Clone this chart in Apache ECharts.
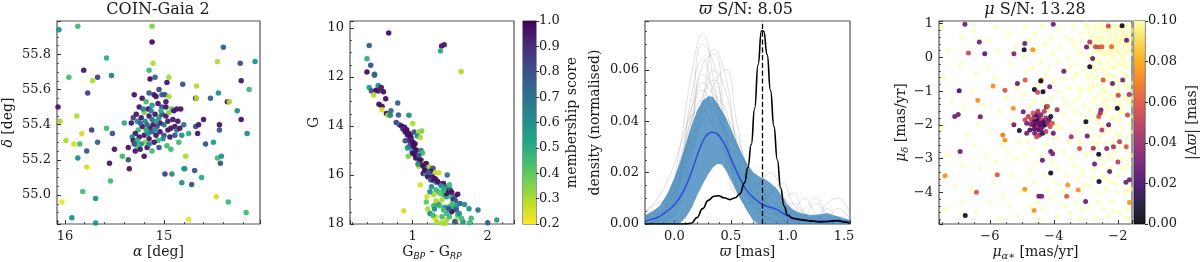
<!DOCTYPE html>
<html><head><meta charset="utf-8">
<script src="https://cdn.jsdelivr.net/npm/echarts@6/dist/echarts.min.js"></script>
<style>html,body{margin:0;padding:0;background:#fff}#c{width:1200px;height:262px}</style>
</head><body><div id="c"></div>
<script>
// ---------------- DATA ----------------
const titles = ['COIN-Gaia 2', '{i|ϖ} S/N: 8.05', '{i|μ} S/N: 13.28'];

// Panel 1: [alpha deg, delta deg, membership score]
const fieldPts = [
[16.06,55.94,0.6],[15.87,55.96,0.45],[15.12,55.96,0.35],[15.12,55.87,0.97],[15.11,55.75,0.3],[14.40,55.84,0.75],[14.46,55.76,0.3],[14.23,55.75,0.8],[14.08,55.76,0.6],[15.58,55.78,0.5],[15.81,55.71,0.95],[15.96,55.67,0.45],[15.72,55.65,0.3],[15.67,55.67,0.85],[15.53,55.68,0.65],[15.77,55.58,0.85],[15.15,55.71,0.45],[15.14,55.66,0.97],[15.09,55.67,0.75],[14.95,55.67,0.3],[14.97,55.64,0.95],[14.81,55.63,0.8],[14.67,55.62,0.3],[14.22,55.65,0.95],[14.14,55.60,0.45],[16.07,55.50,0.95],[15.88,55.45,0.3],[16.05,55.42,0.3],[15.73,55.37,0.85],[15.52,55.35,0.8],[15.58,55.38,0.45],[15.99,55.31,0.3],[15.91,55.29,0.25],[15.85,55.29,0.45],[15.83,55.35,0.25],[15.67,55.30,0.75],[15.87,55.21,0.6],[15.78,55.25,0.8],[15.78,55.16,0.25],[15.55,55.18,0.95],[15.50,55.26,0.95],[15.54,55.08,0.45],[15.82,55.02,0.45],[15.69,54.98,0.6],[16.03,54.96,0.22],[15.93,54.87,0.6],[15.69,54.84,0.6],[15.42,55.22,0.45],[15.40,55.41,0.5],[15.36,55.27,0.95],[15.35,55.15,0.95],[15.36,55.20,0.8],
[14.83,55.49,0.95],[14.82,55.34,0.6],[14.78,55.22,0.3],[14.68,55.55,0.95],[14.67,55.55,0.3],[14.68,55.39,0.8],[14.66,55.35,0.95],[14.69,55.14,0.8],[14.72,55.06,0.8],[14.60,55.43,0.95],[14.65,55.40,0.95],[14.58,55.29,0.8],[14.53,55.55,0.75],[14.50,55.30,0.55],[14.46,55.21,0.45],[14.47,54.99,0.25],[14.45,55.58,0.6],[14.44,55.37,0.8],[14.44,55.40,0.95],[14.43,55.18,0.8],[14.42,55.22,0.6],[14.36,55.53,0.95],[14.34,55.53,0.3],[14.35,54.96,0.45],[14.62,55.10,0.5],[14.80,55.15,0.45],[14.79,55.15,0.6],[14.82,55.07,0.6],[14.92,55.12,0.6],[14.99,55.12,0.85],[14.75,54.86,0.22],[14.17,54.90,0.45],[14.16,55.35,0.6],[14.26,55.48,0.6],[14.22,55.43,0.95],
[15.30,55.57,0.95],[15.22,55.55,0.95],[15.18,55.53,0.45],[15.15,55.58,0.75],[15.10,55.57,0.95],[15.08,55.56,0.95],[15.05,55.60,0.85],[15.02,55.57,0.75],[14.99,55.57,0.8],[14.95,55.56,0.3],[14.98,55.53,0.95],[15.02,55.50,0.8],[15.06,55.52,0.95],[15.12,55.51,0.55],[15.16,55.49,0.95],[15.20,55.47,0.35],[15.25,55.50,0.95],[15.28,55.46,0.95],[15.31,55.44,0.85],[15.33,55.41,0.95],[15.27,55.42,0.6],[15.23,55.44,0.95],[15.19,55.42,0.6],[15.15,55.45,0.95],[15.12,55.43,0.7],[15.09,55.46,0.95],[15.05,55.44,0.6],[15.02,55.46,0.8],[14.98,55.45,0.95],[14.95,55.47,0.35],[14.92,55.49,0.4],[14.90,55.48,0.95],[14.87,55.49,0.95],[14.96,55.42,0.95],[15.00,55.40,0.7],[15.04,55.41,0.95],[15.07,55.39,0.8],[15.11,55.40,0.95],[15.14,55.38,0.95],[15.18,55.37,0.5],[15.22,55.39,0.95],[15.26,55.37,0.45],[15.29,55.35,0.95],[15.32,55.33,0.6],[15.25,55.33,0.95],[15.20,55.34,0.95],[15.16,55.35,0.6],[15.12,55.36,0.75],[15.08,55.34,0.95],[15.04,55.36,0.95],[15.00,55.34,0.8],[14.96,55.37,0.95],[14.93,55.38,0.95],[14.89,55.39,0.95],[14.87,55.37,0.7],[15.01,55.32,0.6],[15.06,55.31,0.45],[15.10,55.30,0.95],[15.15,55.32,0.95],[15.19,55.30,0.35],[15.23,55.29,0.6],[15.27,55.28,0.45],[15.31,55.31,0.95],[15.29,55.25,0.95],[15.24,55.26,0.95],[15.17,55.27,0.95],[15.12,55.25,0.45],[15.20,55.22,0.95],[15.05,55.27,0.8],[14.97,55.28,0.45],[14.93,55.26,0.45],[15.08,55.42,0.55],[15.13,55.48,0.65],[15.03,55.48,0.5],[15.17,55.40,0.75],[15.09,55.37,0.6],[14.98,55.50,0.95],[15.21,55.49,0.65],[15.24,55.41,0.75],[15.15,55.29,0.65],[15.27,55.31,0.5],[15.30,55.29,0.8],
[14.91,55.43,0.95],[14.86,55.42,0.95],[14.84,55.38,0.95],[14.80,55.40,0.7],[14.89,55.34,0.8],[14.94,55.33,0.95],[14.75,55.35,0.5],[14.85,55.30,0.45]
];

// Panel 2: [BP-RP, G, membership score]
const cmdPts = [
[0.68,10.20,0.97],[0.42,10.71,0.78],[1.385,10.73,0.95],[1.42,10.68,0.93],[1.37,10.94,0.5],[0.39,11.25,0.5],[0.44,11.52,0.8],[0.39,11.79,0.97],[0.49,11.93,0.7],[0.49,11.88,0.75],[1.645,11.77,0.3],
[0.54,12.34,0.6],[0.42,12.43,0.55],[0.45,12.57,0.82],[0.51,12.54,0.97],[0.54,12.57,0.95],[0.58,12.43,0.95],[0.61,12.6,0.97],[0.48,12.73,0.3],[0.64,12.89,0.97],[0.80,13.06,0.75],[0.55,13.11,0.97],[0.59,13.19,0.97],[0.59,13.33,0.25],[0.71,13.38,0.7],[0.65,13.49,0.97],[0.67,13.56,0.3],[0.70,13.56,0.65],[0.81,13.55,0.75],[0.95,13.56,0.6],
[0.78,13.85,0.85],[0.82,13.95,0.75],[0.85,14.0,0.97],[0.89,14.05,0.97],[0.87,14.12,0.9],[0.92,14.15,0.97],[1.0,13.9,0.3],[1.02,14.24,0.8],[1.08,14.24,0.3],[1.12,14.2,0.35],[1.06,14.41,0.6],[1.1,14.47,0.3],[0.9,14.24,0.97],[0.93,14.37,0.97],[0.95,14.3,0.97],[0.95,14.58,0.97],[0.98,14.5,0.9],[0.97,14.72,0.8],[1.03,14.72,0.97],[1.0,14.65,0.97],[1.02,14.92,0.97],[0.95,14.85,0.8],[0.99,15.05,0.6],[1.05,14.99,0.97],[1.0,15.12,0.97],[1.03,15.17,0.97],[0.94,15.23,0.35],[1.06,15.26,0.97],[1.11,15.0,0.65],[1.13,15.1,0.45],[1.11,15.39,0.97],[1.14,15.53,0.3],[1.18,15.53,0.97],[1.15,15.67,0.8],[1.08,15.64,0.3],[1.19,15.74,0.75],[1.22,15.67,0.3],[1.27,15.72,0.8],[1.24,15.85,0.97],[1.30,15.91,0.3],[1.14,15.94,0.97],[1.17,15.96,0.6],[1.20,16.07,0.97],[1.26,16.07,0.97],[1.24,16.2,0.8],[1.46,16.0,0.7],[1.35,15.91,0.25],[1.28,16.21,0.97],[1.31,16.3,0.6],[1.36,16.35,0.8],[1.10,16.41,0.25],[1.41,16.35,0.97],[1.47,16.62,0.97],[1.50,16.6,0.8],[1.31,16.6,0.45],[1.34,16.68,0.45],[1.37,16.75,0.4],[1.41,16.82,0.45],[1.45,16.89,0.55],[1.49,16.86,0.45],[1.54,17.0,0.97],[1.57,17.06,0.8],[1.39,17.02,0.3],[1.32,17.13,0.3],[1.34,17.2,0.8],[1.31,17.06,0.3],[1.19,16.89,0.25],[1.28,17.25,0.45],[1.36,17.25,0.45],[1.43,17.33,0.6],[1.49,17.29,0.45],[1.54,17.36,0.5],[1.58,17.29,0.6],[1.63,17.16,0.75],[1.69,17.2,0.6],[1.75,17.38,0.6],[1.58,17.43,0.8],[1.52,17.5,0.97],[1.45,17.57,0.45],[1.39,17.7,0.45],[1.30,17.70,0.3],[1.23,17.57,0.6],[1.20,17.39,0.3],[1.18,17.1,0.4],[1.32,17.9,0.3],[1.45,17.84,0.3],[1.58,17.84,0.3],[1.67,17.91,0.6],[1.78,17.77,0.45],[1.87,17.43,0.7],[2.0,17.95,0.75],[2.12,17.84,0.55],[1.76,17.95,0.45],[0.88,17.46,0.25],[1.29,17.75,0.25],[1.49,17.7,0.45],[1.60,17.63,0.45],[1.62,17.57,0.6],[1.56,17.91,0.8],[1.43,17.98,0.3],[1.39,17.95,0.3],[1.65,17.77,0.45],[1.27,17.64,0.45],[1.29,17.39,0.6],[1.41,17.43,0.45],[1.48,17.38,0.8],[1.53,17.16,0.45],[1.56,16.89,0.8],[1.6,16.79,0.97],[1.45,16.75,0.97],[1.43,16.48,0.8],[1.41,16.64,0.45],[1.49,16.4,0.45],[1.25,16.48,0.6],[1.28,16.81,0.3],[1.23,16.68,0.6],
[0.97,14.4,0.97],[1.01,14.8,0.97],[1.04,15.3,0.97],[1.08,15.2,0.8],[1.09,15.45,0.97],[1.13,15.6,0.97],[1.16,15.8,0.97],[1.21,15.9,0.8],[1.3,16.15,0.97],[1.33,16.25,0.97],[1.38,16.45,0.6],[1.42,16.55,0.5],[1.52,16.7,0.97],[0.90,14.6,0.8],[0.93,14.9,0.6],[1.07,15.55,0.6]
];

// Panel 3: parallax densities
const grayX = [-0.26,-0.15,-0.05,0.05,0.15,0.25,0.35,0.45,0.55,0.65,0.75,0.85,0.95,1.05,1.15,1.25,1.35,1.45,1.55];
const grayCurves = [
[0.000,0.002,0.010,0.030,0.058,0.074,0.055,0.030,0.015,0.008,0.010,0.006,0.004,0.002,0.001,0.003,0.001,0.000,0.000],
[0.006,0.004,0.008,0.020,0.040,0.062,0.066,0.040,0.020,0.012,0.006,0.012,0.008,0.003,0.002,0.001,0.006,0.002,0.000],
[0.000,0.000,0.004,0.015,0.035,0.055,0.050,0.045,0.025,0.010,0.004,0.002,0.008,0.012,0.004,0.001,0.000,0.003,0.001],
[0.002,0.006,0.012,0.025,0.045,0.052,0.040,0.028,0.022,0.018,0.012,0.006,0.003,0.005,0.010,0.004,0.001,0.000,0.000],
[0.000,0.001,0.002,0.008,0.025,0.048,0.068,0.058,0.030,0.012,0.005,0.002,0.001,0.001,0.003,0.008,0.003,0.001,0.000],
[0.004,0.010,0.018,0.030,0.042,0.044,0.038,0.030,0.020,0.014,0.016,0.020,0.012,0.005,0.002,0.001,0.001,0.000,0.000],
[0.000,0.000,0.002,0.012,0.030,0.046,0.060,0.052,0.032,0.016,0.008,0.004,0.010,0.006,0.002,0.000,0.002,0.006,0.002],
[0.001,0.003,0.006,0.018,0.050,0.064,0.048,0.026,0.012,0.020,0.016,0.006,0.002,0.001,0.000,0.000,0.000,0.000,0.000],
[0.000,0.002,0.008,0.022,0.034,0.040,0.046,0.042,0.034,0.022,0.014,0.010,0.006,0.004,0.002,0.002,0.004,0.002,0.000],
[0.003,0.002,0.005,0.016,0.038,0.058,0.052,0.034,0.018,0.010,0.008,0.012,0.016,0.008,0.003,0.001,0.000,0.001,0.000],
[0.000,0.000,0.003,0.010,0.028,0.042,0.054,0.060,0.040,0.018,0.006,0.002,0.001,0.003,0.006,0.010,0.004,0.001,0.000],
[0.005,0.008,0.010,0.018,0.032,0.050,0.056,0.036,0.016,0.006,0.004,0.006,0.004,0.002,0.001,0.002,0.008,0.010,0.004],
[0.000,0.001,0.004,0.020,0.044,0.070,0.062,0.036,0.014,0.008,0.012,0.010,0.004,0.001,0.000,0.000,0.000,0.000,0.000],
[0.002,0.004,0.010,0.024,0.040,0.048,0.044,0.036,0.030,0.020,0.010,0.004,0.004,0.008,0.004,0.001,0.000,0.000,0.000]
];
const bandX = [-0.26,-0.2,-0.13,-0.06,0.0,0.05,0.1,0.15,0.2,0.25,0.3,0.34,0.38,0.42,0.46,0.5,0.55,0.6,0.65,0.7,0.75,0.8,0.85,0.9,0.95,1.0,1.05,1.1,1.2,1.3,1.35,1.4,1.5,1.55];
const bandMedian = [0.0012,0.0018,0.003,0.0052,0.0075,0.0105,0.0145,0.02,0.0265,0.032,0.0352,0.0357,0.035,0.0328,0.0295,0.0255,0.0205,0.016,0.0125,0.0102,0.0085,0.0072,0.0065,0.0058,0.0045,0.0032,0.0022,0.0017,0.0013,0.0012,0.0012,0.0011,0.001,0.0009];
const bandUpper = [0.0035,0.0048,0.007,0.012,0.018,0.024,0.031,0.038,0.044,0.048,0.0497,0.0495,0.047,0.044,0.041,0.037,0.032,0.027,0.023,0.02,0.0185,0.0175,0.016,0.014,0.011,0.0075,0.0055,0.0045,0.0035,0.0038,0.0042,0.0035,0.0022,0.0016];
const bandLower = [0,0,0,0,0,0.0003,0.0025,0.006,0.011,0.0155,0.0195,0.022,0.0234,0.0232,0.0205,0.017,0.0125,0.0085,0.0045,0.0012,0,0,0,0,0,0,0,0,0,0,0,0,0,0];
const clusterX = [-0.26,0.10,0.15,0.20,0.25,0.30,0.35,0.39,0.44,0.49,0.54,0.58,0.62,0.65,0.68,0.71,0.74,0.77,0.79,0.82,0.85,0.88,0.91,0.94,0.97,1.00,1.05,1.10,1.15,1.20,1.30,1.35,1.40,1.45,1.50,1.55];
const clusterY = [0,0,0.0003,0.0025,0.006,0.0092,0.0108,0.011,0.0102,0.0095,0.0102,0.0118,0.016,0.022,0.031,0.045,0.062,0.0752,0.075,0.066,0.052,0.038,0.025,0.014,0.007,0.0035,0.0022,0.0018,0.0015,0.0012,0.0008,0.0009,0.0012,0.0013,0.0008,0.0003];
const clusterParallax = [0.78];

// Panel 4: proper motions [pmra, pmdec, |dplx|]
const pmCore = [
[-4.62,-1.75,0.04],[-4.55,-1.7,0.02],[-4.48,-1.78,0.03],[-4.7,-1.85,0.05],[-4.6,-1.9,0.02],[-4.52,-1.88,0.01],[-4.45,-1.92,0.03],[-4.38,-1.85,0.05],[-4.3,-1.9,0.02],[-4.25,-1.8,0.04],[-4.65,-2.0,0.03],[-4.58,-2.02,0.01],[-4.5,-2.05,0.04],[-4.42,-2.0,0.02],[-4.35,-2.05,0.03],[-4.28,-2.0,0.01],[-4.55,-2.1,0.05],[-4.47,-2.15,0.02],[-4.4,-2.12,0.03],[-4.62,-2.12,0.025],[-4.72,-1.98,0.035],[-4.2,-1.95,0.04],[-4.15,-1.85,0.03],[-4.12,-2.05,0.055],[-4.8,-1.75,0.05],[-4.85,-1.95,0.03],[-4.5,-1.6,0.045],[-4.65,-1.65,0.06],[-4.4,-1.7,0.035],[-4.1,-1.75,0.01],[-4.05,-1.95,0.06],[-4.6,-2.25,0.03],[-4.45,-2.3,0.04],[-4.35,-2.25,0.01],[-4.25,-2.2,0.05],[-4.75,-2.15,0.02],[-4.9,-1.85,0.055],[-4.3,-1.6,0.05],[-4.55,-1.95,0.03],[-4.4,-1.95,0.025],
[-6.78,0.98,0.03],[-1.87,0.94,0.005],[-4.02,0.98,0.03],[-2.30,0.93,0.055],[-1.73,0.51,0.03],[-6.33,0.46,0.03],[-6.67,0.13,0.055],[-6.16,0.11,0.025],[-4.91,0.41,0.03],[-4.93,0.23,0.005],[-4.66,0.23,0.075],[-5.25,0.11,0.035],[-2.88,0.46,0.045],[-2.98,0.31,0.03],[-2.79,-0.03,0.03],[-2.88,-0.28,0.005],[-3.69,-0.41,0.03],[-2.46,-0.67,0.06],[-2.17,-0.77,0.03],[-1.85,-0.67,0.035],[-1.99,-1.12,0.055],[-4.39,-0.67,0.08],[-4.41,-0.7,0.005],[-5.14,-0.77,0.03],[-4.9,-0.67,0.06],[-4.61,-0.95,0.005],[-4.51,-1.03,0.055],[-4.34,-1.02,0.005],[-4.13,-0.87,0.03],[-5.53,-0.97,0.06],[-5.9,-0.85,0.075],[-6.96,-0.99,0.02],[-6.38,-1.27,0.075],[-6.3,-1.76,0.03],[-6.99,-1.69,0.03],[-5.27,-1.51,0.075],[-4.96,-1.61,0.03],[-4.23,-1.46,0.005],[-5.25,-2.0,0.03],[-5.08,-2.17,0.01],[-4.85,-2.25,0.03],[-4.54,-2.35,0.055],[-4.02,-2.25,0.03],[-5.53,-2.45,0.075],[-5.6,-2.3,0.07],[-4.1,-2.79,0.03],[-4.04,-2.86,0.035],[-4.36,-3.05,0.03],[-4.1,-3.43,0.005],[-3.46,-2.35,0.045],[-3.0,-1.91,0.005],[-2.96,-2.33,0.03],[-2.53,-1.56,0.03],[-2.02,-1.51,0.005],[-2.29,-2.0,0.03],[-2.14,-2.65,0.045],[-1.74,-2.65,0.06],[-1.7,-1.71,0.055],[-2.6,-2.87,0.005],[-2.77,-2.69,0.045],[-2.73,-3.16,0.03],[-2.26,-3.38,0.03],[-2.59,-3.68,0.005],[-1.64,-3.63,0.03],[-1.64,-4.3,0.075],[-3.57,-3.78,0.075],[-3.24,-3.93,0.075],[-3.01,-4.27,0.03],[-3.6,-4.12,0.06],[-4.47,-4.12,0.03],[-4.38,-4.12,0.035],[-4.91,-3.91,0.075],[-4.62,-4.54,0.075],[-5.77,-3.48,0.06],[-6.42,-4.0,0.06],[-6.77,-4.69,0.005],[-6.93,-2.79,0.03],[-7.4,-3.51,0.075],[-7.1,-1.75,0.03],[-2.6,0.31,0.06],[-2.5,0.32,0.06],[-2.2,0.32,0.065],[-2.7,0.32,0.055],[-3.9,-1.55,0.045],[-4.2,-1.45,0.06],[-2.6,-1.75,0.06],[-2.55,-1.65,0.045],[-2.5,-2.15,0.05],[-3.2,-2.7,0.06],[-2.35,-2.7,0.04],[-1.95,-2.5,0.05],[-2.0,-3.1,0.05],[-1.75,-3.7,0.03],[-1.65,-1.1,0.045]
];
const pmField = [
[-7.5,0.9],[-7.3,0.2],[-7.45,-0.6],[-7.2,-1.3],[-7.5,-2.1],[-7.35,-2.9],[-7.1,-3.8],[-7.4,-4.5],[-6.9,0.6],[-6.95,-0.2],[-6.8,-1.5],[-6.7,-2.3],[-6.85,-3.2],[-6.6,-3.9],[-6.9,-4.3],[-6.5,0.8],[-6.45,-0.5],[-6.55,-1.0],[-6.35,-2.0],[-6.5,-2.6],[-6.3,-3.3],[-6.45,-4.6],[-6.1,0.5],[-6.05,-0.3],[-6.2,-1.4],[-6.0,-2.2],[-6.1,-2.9],[-5.9,-3.7],[-6.0,-4.3],[-5.8,0.9],[-5.75,0.2],[-5.85,-0.6],[-5.7,-1.6],[-5.65,-2.6],[-5.8,-3.1],[-5.6,-4.1],[-5.7,-4.8],[-5.4,0.7],[-5.35,-0.2],[-5.5,-1.2],[-5.3,-1.9],[-5.45,-2.8],[-5.3,-3.5],[-5.4,-4.4],[-5.2,0.3],[-5.15,-0.9],[-5.1,-2.5],[-5.2,-3.0],[-5.05,-4.0],[-5.1,-4.7],
[-4.9,0.9],[-4.8,0.5],[-4.95,0.0],[-4.85,-0.4],[-4.9,-1.1],[-4.75,-1.4],[-4.8,-2.5],[-4.9,-2.9],[-4.75,-3.4],[-4.85,-3.9],[-4.7,-4.4],[-4.6,0.7],[-4.55,0.2],[-4.65,-0.3],[-4.5,-0.8],[-4.6,-1.3],[-4.7,-2.7],[-4.55,-3.1],[-4.6,-3.7],[-4.5,-4.3],[-4.45,-4.8],[-4.35,0.95],[-4.3,0.4],[-4.4,-0.1],[-4.25,-0.5],[-4.35,-1.3],[-4.25,-2.6],[-4.4,-2.9],[-4.3,-3.5],[-4.2,-3.9],[-4.35,-4.5],[-4.1,0.6],[-4.05,0.1],[-4.15,-0.3],[-4.0,-0.7],[-4.1,-1.2],[-3.95,-2.4],[-4.05,-3.1],[-3.95,-3.7],[-4.1,-4.2],[-3.9,-4.7],[-3.85,0.85],[-3.8,0.3],[-3.9,-0.1],[-3.75,-0.6],[-3.85,-1.0],[-3.7,-1.7],[-3.8,-2.1],[-3.7,-2.8],[-3.85,-3.3],[-3.75,-4.0],[-3.65,-4.4],[-3.6,0.6],[-3.55,0.0],[-3.65,-0.4],[-3.5,-0.9],[-3.6,-1.4],[-3.5,-1.9],[-3.55,-2.5],[-3.45,-3.0],[-3.6,-3.5],[-3.5,-4.6],[-3.4,0.9],[-3.35,0.35],[-3.3,-0.2],[-3.4,-0.6],[-3.25,-1.2],[-3.35,-1.6],[-3.3,-2.2],[-3.2,-2.5],[-3.35,-3.2],[-3.25,-3.6],[-3.3,-4.3],[-3.2,-4.8],[-3.15,0.7],[-3.1,0.1],[-3.05,-0.4],[-3.15,-0.9],[-3.05,-1.4],[-3.1,-2.0],[-3.0,-2.9],[-3.1,-3.4],[-3.05,-3.8],[-3.1,-4.5],[-4.15,-1.6],[-3.95,-1.5],[-3.9,-2.0],[-3.7,-1.2],
[-2.95,0.9],[-2.85,0.6],[-2.9,0.3],[-2.75,0.85],[-2.7,0.5],[-2.65,0.15],[-2.6,0.75],[-2.55,0.45],[-2.5,0.95],[-2.45,0.6],[-2.4,0.25],[-2.35,0.8],[-2.3,0.5],[-2.25,0.15],[-2.2,0.7],[-2.15,0.95],[-2.1,0.4],[-2.05,0.65],[-2.0,0.2],[-1.95,0.85],[-1.9,0.5],[-1.85,0.25],[-1.8,0.7],[-1.75,0.95],[-1.7,0.4],[-1.65,0.75],[-1.6,0.1],[-1.6,0.55],[-2.8,0.1],[-2.6,0.3],[-2.4,0.05],[-2.2,0.35],[-2.0,0.9],[-1.85,0.05],[-1.7,0.2],[-2.45,0.98],[-2.25,0.85],[-1.9,0.75],[-2.75,0.35],[-2.1,0.1],
[-2.95,-0.2],[-2.85,-0.5],[-2.9,-0.9],[-2.8,-1.3],[-2.7,-0.1],[-2.65,-0.4],[-2.6,-0.8],[-2.55,-1.1],[-2.5,-0.3],[-2.45,-0.6],[-2.4,-1.0],[-2.35,-1.4],[-2.3,-0.15],[-2.25,-0.5],[-2.2,-0.85],[-2.15,-1.25],[-2.1,-0.3],[-2.05,-0.7],[-2.0,-0.95],[-1.95,-1.35],[-1.9,-0.1],[-1.85,-0.45],[-1.8,-0.8],[-1.75,-1.2],[-1.7,-0.3],[-1.65,-0.6],[-1.6,-1.0],[-1.6,-1.4],[-2.75,-0.65],[-2.5,-1.3],[-2.3,-0.7],[-2.05,-1.15],[-1.8,-0.05],[-2.6,-0.05],[-2.15,-0.05],[-1.7,-0.9],[-2.85,-1.0],[-2.4,-0.35],
[-2.95,-1.8],[-2.8,-2.3],[-2.9,-2.8],[-2.75,-3.3],[-2.85,-3.8],[-2.9,-4.4],[-2.7,-4.8],[-2.65,-1.9],[-2.6,-2.5],[-2.55,-3.0],[-2.5,-3.5],[-2.6,-4.0],[-2.45,-4.5],[-2.4,-1.7],[-2.35,-2.2],[-2.3,-2.9],[-2.25,-3.3],[-2.35,-3.9],[-2.2,-4.3],[-2.3,-4.7],[-2.1,-1.8],[-2.05,-2.3],[-2.1,-2.8],[-2.0,-3.5],[-2.05,-4.0],[-1.95,-4.6],[-1.9,-1.6],[-1.85,-2.1],[-1.8,-2.6],[-1.85,-3.0],[-1.75,-3.3],[-1.8,-4.0],[-1.7,-4.5],[-1.65,-2.0],[-1.6,-2.9],[-1.6,-3.9],[-1.65,-4.8],[-2.15,-2.5],[-2.5,-2.0],[-1.95,-1.9],[-2.7,-2.7],[-2.2,-3.7],
[-3.0,1.0],[-2.9,0.75],[-2.8,0.45],[-2.7,0.2],[-2.65,0.95],[-2.55,0.6],[-2.5,0.15],[-2.45,0.8],[-2.35,0.4],[-2.3,0.95],[-2.25,0.6],[-2.2,0.05],[-2.15,0.5],[-2.1,0.8],[-2.05,0.3],[-2.0,0.55],[-1.95,0.1],[-1.9,0.95],[-1.85,0.6],[-1.8,0.4],[-1.75,0.15],[-1.7,0.6],[-1.65,0.9],[-1.62,0.3],[-1.58,0.8],[-2.9,0.0],[-2.75,-0.3],[-2.65,-0.6],[-2.55,-0.15],[-2.45,-0.9],[-2.35,-0.5],[-2.25,-1.1],[-2.2,-0.3],[-2.1,-0.55],[-2.0,-0.2],[-1.95,-0.75],[-1.9,-1.1],[-1.85,-0.25],[-1.75,-0.55],[-1.7,-1.3],[-1.65,-0.15],[-1.6,-0.75],[-1.58,-1.2],[-2.95,-0.6],[-2.8,-0.85],[-2.7,-1.2],[-2.6,-1.45],[-2.4,-1.25],[-2.3,-1.55],[-2.1,-1.45],[-1.9,-1.45],[-1.75,-1.65],[-1.6,-1.75],[-2.85,-1.55],[-2.7,-1.7],[-2.2,-1.8],[-2.0,-1.7],[-2.75,0.65],[-2.35,0.15],[-1.95,0.4],[-2.6,0.55],[-2.15,0.25],[-1.8,0.9],[-1.65,0.45],[-3.2,0.5],[-3.25,0.15],[-3.3,-0.5],[-3.2,-1.0],[-3.45,0.5],[-3.5,-0.3],[-3.15,-1.7],[-3.4,-1.3],[-2.9,-2.1],[-2.55,-2.3],[-2.25,-2.1],[-1.95,-2.3],[-1.7,-2.4],[-1.6,-2.2],[-2.4,-2.55],[-2.05,-2.65],[-2.75,-2.55],[-2.45,-3.15],[-2.15,-3.0],[-1.9,-3.3],[-1.65,-3.15],[-2.8,-3.55],[-2.35,-3.6],[-2.05,-3.75],[-1.7,-3.95],[-2.6,-4.3],[-2.15,-4.55],[-1.8,-4.75]
];
const pmFieldValue = 0.1;

// colour scales
const viridisLowToHigh = ['#fde725','#bddf26','#7ad151','#44bf70','#22a884','#21918c','#2a788e','#355f8d','#414487','#482475','#440154'];
const infernoLowToHigh = ['#000004','#160b39','#420a68','#6a176e','#932667','#bc3754','#dd513a','#f37819','#fca50a','#f6d746','#fcffa4'];
const scoreRange = [0.2, 1.0];
const dplxRange = [0, 0.1];

// ---------------- CHART ----------------
const FONT = 'DejaVu Serif';
const INK = '#1a1a1a';
const RICH = {
  i: {fontFamily: FONT, fontStyle: 'italic', fontSize: 14, lineHeight: 18, color: INK},
  s: {fontFamily: 'DejaVu Sans', fontStyle: 'italic', fontSize: 9, lineHeight: 18, verticalAlign: 'bottom', color: INK},
  si: {fontFamily: FONT, fontStyle: 'italic', fontSize: 10, lineHeight: 18, verticalAlign: 'bottom', color: INK}
};
const minus = v => (v < 0 ? '\u2212' : '') + Math.abs(v);

function axis(o) {
  return {
    type: 'value', gridIndex: o.g, min: o.min, max: o.max, splitNumber: o.split,
    inverse: !!o.inverse, position: o.position,
    interval: o.interval,
    axisLine: {show: false, onZero: false}, splitLine: {show: false},
    axisTick: {show: true, inside: o.tickOut ? false : true, length: o.tickLen || 4, lineStyle: {color: '#333', width: 1}},
    minorTick: {show: !!o.minor, splitNumber: o.minor || 5, length: 2, lineStyle: {color: '#333', width: 0.8}},
    axisLabel: {fontFamily: FONT, fontSize: 13, color: INK, margin: o.margin || 6, formatter: o.fmt,
      showMinLabel: !!o.showMin, showMaxLabel: !!o.showMax},
    name: o.name, nameLocation: 'middle', nameGap: o.gap, nameRotate: o.rotate, nameMoveOverlap: false,
    nameTextStyle: {fontFamily: FONT, fontSize: 14, color: INK, lineHeight: 18, rich: RICH}
  };
}

const gridBase = {show: true, borderColor: '#555', borderWidth: 1.2, backgroundColor: 'transparent', outerBoundsMode: 'none', containLabel: false};
const grids = [
  Object.assign({left: 57, top: 21, width: 203, height: 203}, gridBase),
  Object.assign({left: 350, top: 21, width: 164, height: 203}, gridBase),
  Object.assign({left: 645, top: 21, width: 205, height: 203}, gridBase),
  Object.assign({left: 939, top: 21, width: 193, height: 203}, gridBase),
  Object.assign({left: 523, top: 21, width: 13, height: 203}, gridBase),
  Object.assign({left: 1134, top: 21, width: 11, height: 203}, gridBase)
];

const xAxes = [
  axis({g: 0, min: 14.03, max: 16.08, split: 2, inverse: true, minor: 5, fmt: v => String(v), name: '{i|α} [deg]', gap: 19}),
  axis({g: 1, min: 0.164, max: 2.35, split: 2, minor: 5, fmt: v => String(v), name: 'G{s|BP} - G{s|RP}', gap: 19}),
  axis({g: 2, min: -0.26, max: 1.553, split: 4, minor: 5, fmt: v => v.toFixed(1), name: '{i|ϖ} [mas]', gap: 19}),
  axis({g: 3, min: -7.59, max: -1.56, split: 3, minor: 4, fmt: minus, name: '{i|μ}{si|α∗} [mas/yr]', gap: 19}),
  {type: 'category', gridIndex: 4, data: ['cb'], show: false, boundaryGap: true},
  {type: 'category', gridIndex: 5, data: ['cb'], show: false, boundaryGap: true}
];
const yAxes = [
  axis({g: 0, min: 54.835, max: 55.99, split: 6, minor: 4, fmt: v => v.toFixed(1), name: '{i|δ} [deg]', gap: 40}),
  axis({g: 1, min: 9.71, max: 18, split: 4, inverse: true, minor: 4, showMax: true, fmt: v => String(v), name: 'G', gap: 27}),
  axis({g: 2, min: 0, max: 0.079, split: 4, minor: 4, showMin: true, fmt: v => v.toFixed(2), name: 'density (normalised)', gap: 41}),
  axis({g: 3, min: -4.94, max: 1.08, split: 6, minor: 5, fmt: minus, name: '{i|μ}{si|δ} [mas/yr]', gap: 29}),
  axis({g: 4, min: scoreRange[0], max: scoreRange[1], interval: 0.1, position: 'right', tickOut: true, tickLen: 3, margin: 3, showMin: true, showMax: true, fmt: v => v.toFixed(1), name: 'membership score', gap: 27, rotate: 90}),
  axis({g: 5, min: dplxRange[0], max: dplxRange[1], interval: 0.02, position: 'right', tickOut: true, tickLen: 3, margin: 3, showMin: true, showMax: true, fmt: v => v.toFixed(2), name: '|Δ{i|ϖ}| [mas]', gap: 38, rotate: 90})
];

function gradient(list) {
  const n = list.length;
  return {type: 'linear', x: 0, y: 0, x2: 0, y2: 1,
    colorStops: list.slice().reverse().map((c, i) => ({offset: i / (n - 1), color: c}))};
}

const series = [];
series.push({type: 'scatter', xAxisIndex: 0, yAxisIndex: 0, data: fieldPts, symbolSize: 5.5, itemStyle: {opacity: 0.95}, silent: true});
series.push({type: 'scatter', xAxisIndex: 1, yAxisIndex: 1, data: cmdPts, symbolSize: 5.5, itemStyle: {opacity: 0.95}, silent: true});
grayCurves.forEach(c => {
  series.push({type: 'line', xAxisIndex: 2, yAxisIndex: 2, data: grayX.map((x, i) => [x, c[i]]),
    showSymbol: false, smooth: true, silent: true, z: 2,
    lineStyle: {color: 'rgba(170,170,170,0.35)', width: 1}});
});
series.push({type: 'custom', xAxisIndex: 2, yAxisIndex: 2, silent: true, z: 3, clip: true,
  data: [[0.5, 0.02]],
  renderItem: (params, api) => {
    const pts = [];
    for (let i = 0; i < bandX.length; i++) pts.push(api.coord([bandX[i], bandUpper[i]]));
    for (let i = bandX.length - 1; i >= 0; i--) pts.push(api.coord([bandX[i], bandLower[i]]));
    return {type: 'polygon', shape: {points: pts}, style: {fill: 'rgba(40,120,180,0.72)'}};
  }});
series.push({type: 'line', xAxisIndex: 2, yAxisIndex: 2, data: bandX.map((x, i) => [x, bandMedian[i]]),
  showSymbol: false, smooth: true, silent: true, z: 4, lineStyle: {color: '#2a4ee0', width: 1.5}});
series.push({type: 'line', xAxisIndex: 2, yAxisIndex: 2, data: clusterX.map((x, i) => [x, clusterY[i]]),
  showSymbol: false, smooth: true, smoothMonotone: 'x', silent: true, z: 5, lineStyle: {color: '#000', width: 1.6},
  markLine: {silent: true, symbol: ['none', 'none'], label: {show: false},
    lineStyle: {type: 'dashed', color: '#000', width: 1.3},
    data: clusterParallax.map(v => ({xAxis: v}))}});
const pmFieldIdx = series.length;
series.push({type: 'scatter', xAxisIndex: 3, yAxisIndex: 3, data: pmField.map(p => [p[0], p[1], pmFieldValue]),
  symbolSize: 5, itemStyle: {opacity: 0.6}, silent: true, z: 2});
const pmCoreIdx = series.length;
series.push({type: 'scatter', xAxisIndex: 3, yAxisIndex: 3, data: pmCore, symbolSize: 5, itemStyle: {opacity: 0.9}, silent: true, z: 3});
// colour bars
series.push({type: 'bar', xAxisIndex: 4, yAxisIndex: 4, stack: 'cb1', barWidth: '100%', silent: true, data: [scoreRange[0]], itemStyle: {color: 'rgba(0,0,0,0)'}});
series.push({type: 'bar', xAxisIndex: 4, yAxisIndex: 4, stack: 'cb1', barWidth: '100%', silent: true, data: [scoreRange[1] - scoreRange[0]], itemStyle: {color: gradient(viridisLowToHigh)}});
series.push({type: 'bar', xAxisIndex: 5, yAxisIndex: 5, barWidth: '100%', silent: true, data: [dplxRange[1]], itemStyle: {color: gradient(infernoLowToHigh), opacity: 0.9}});

const graphic = [
  {x: 158, y: 10, t: titles[0]}, {x: 746, y: 10, t: titles[1]}, {x: 1035, y: 10, t: titles[2]}
].map(o => ({type: 'text', x: o.x, y: o.y, silent: true,
  style: {text: o.t, fontFamily: FONT, fontSize: 16, fill: INK, align: 'center', verticalAlign: 'middle',
    textAlign: 'center', textVerticalAlign: 'middle',
    rich: {i: {fontFamily: FONT, fontStyle: 'italic', fontSize: 16, fill: INK}}}}));

const chart = echarts.init(document.getElementById('c'), null, {renderer: 'canvas', width: 1200, height: 262});
chart.setOption({
  animation: false,
  backgroundColor: '#fff',
  grid: grids, xAxis: xAxes, yAxis: yAxes,
  visualMap: [
    {type: 'continuous', show: false, min: scoreRange[0], max: scoreRange[1], dimension: 2, seriesIndex: [0, 1], inRange: {color: viridisLowToHigh}},
    {type: 'continuous', show: false, min: dplxRange[0], max: dplxRange[1], dimension: 2, seriesIndex: [pmFieldIdx, pmCoreIdx], inRange: {color: infernoLowToHigh}}
  ],
  series: series,
  graphic: graphic
});
</script></body></html>
